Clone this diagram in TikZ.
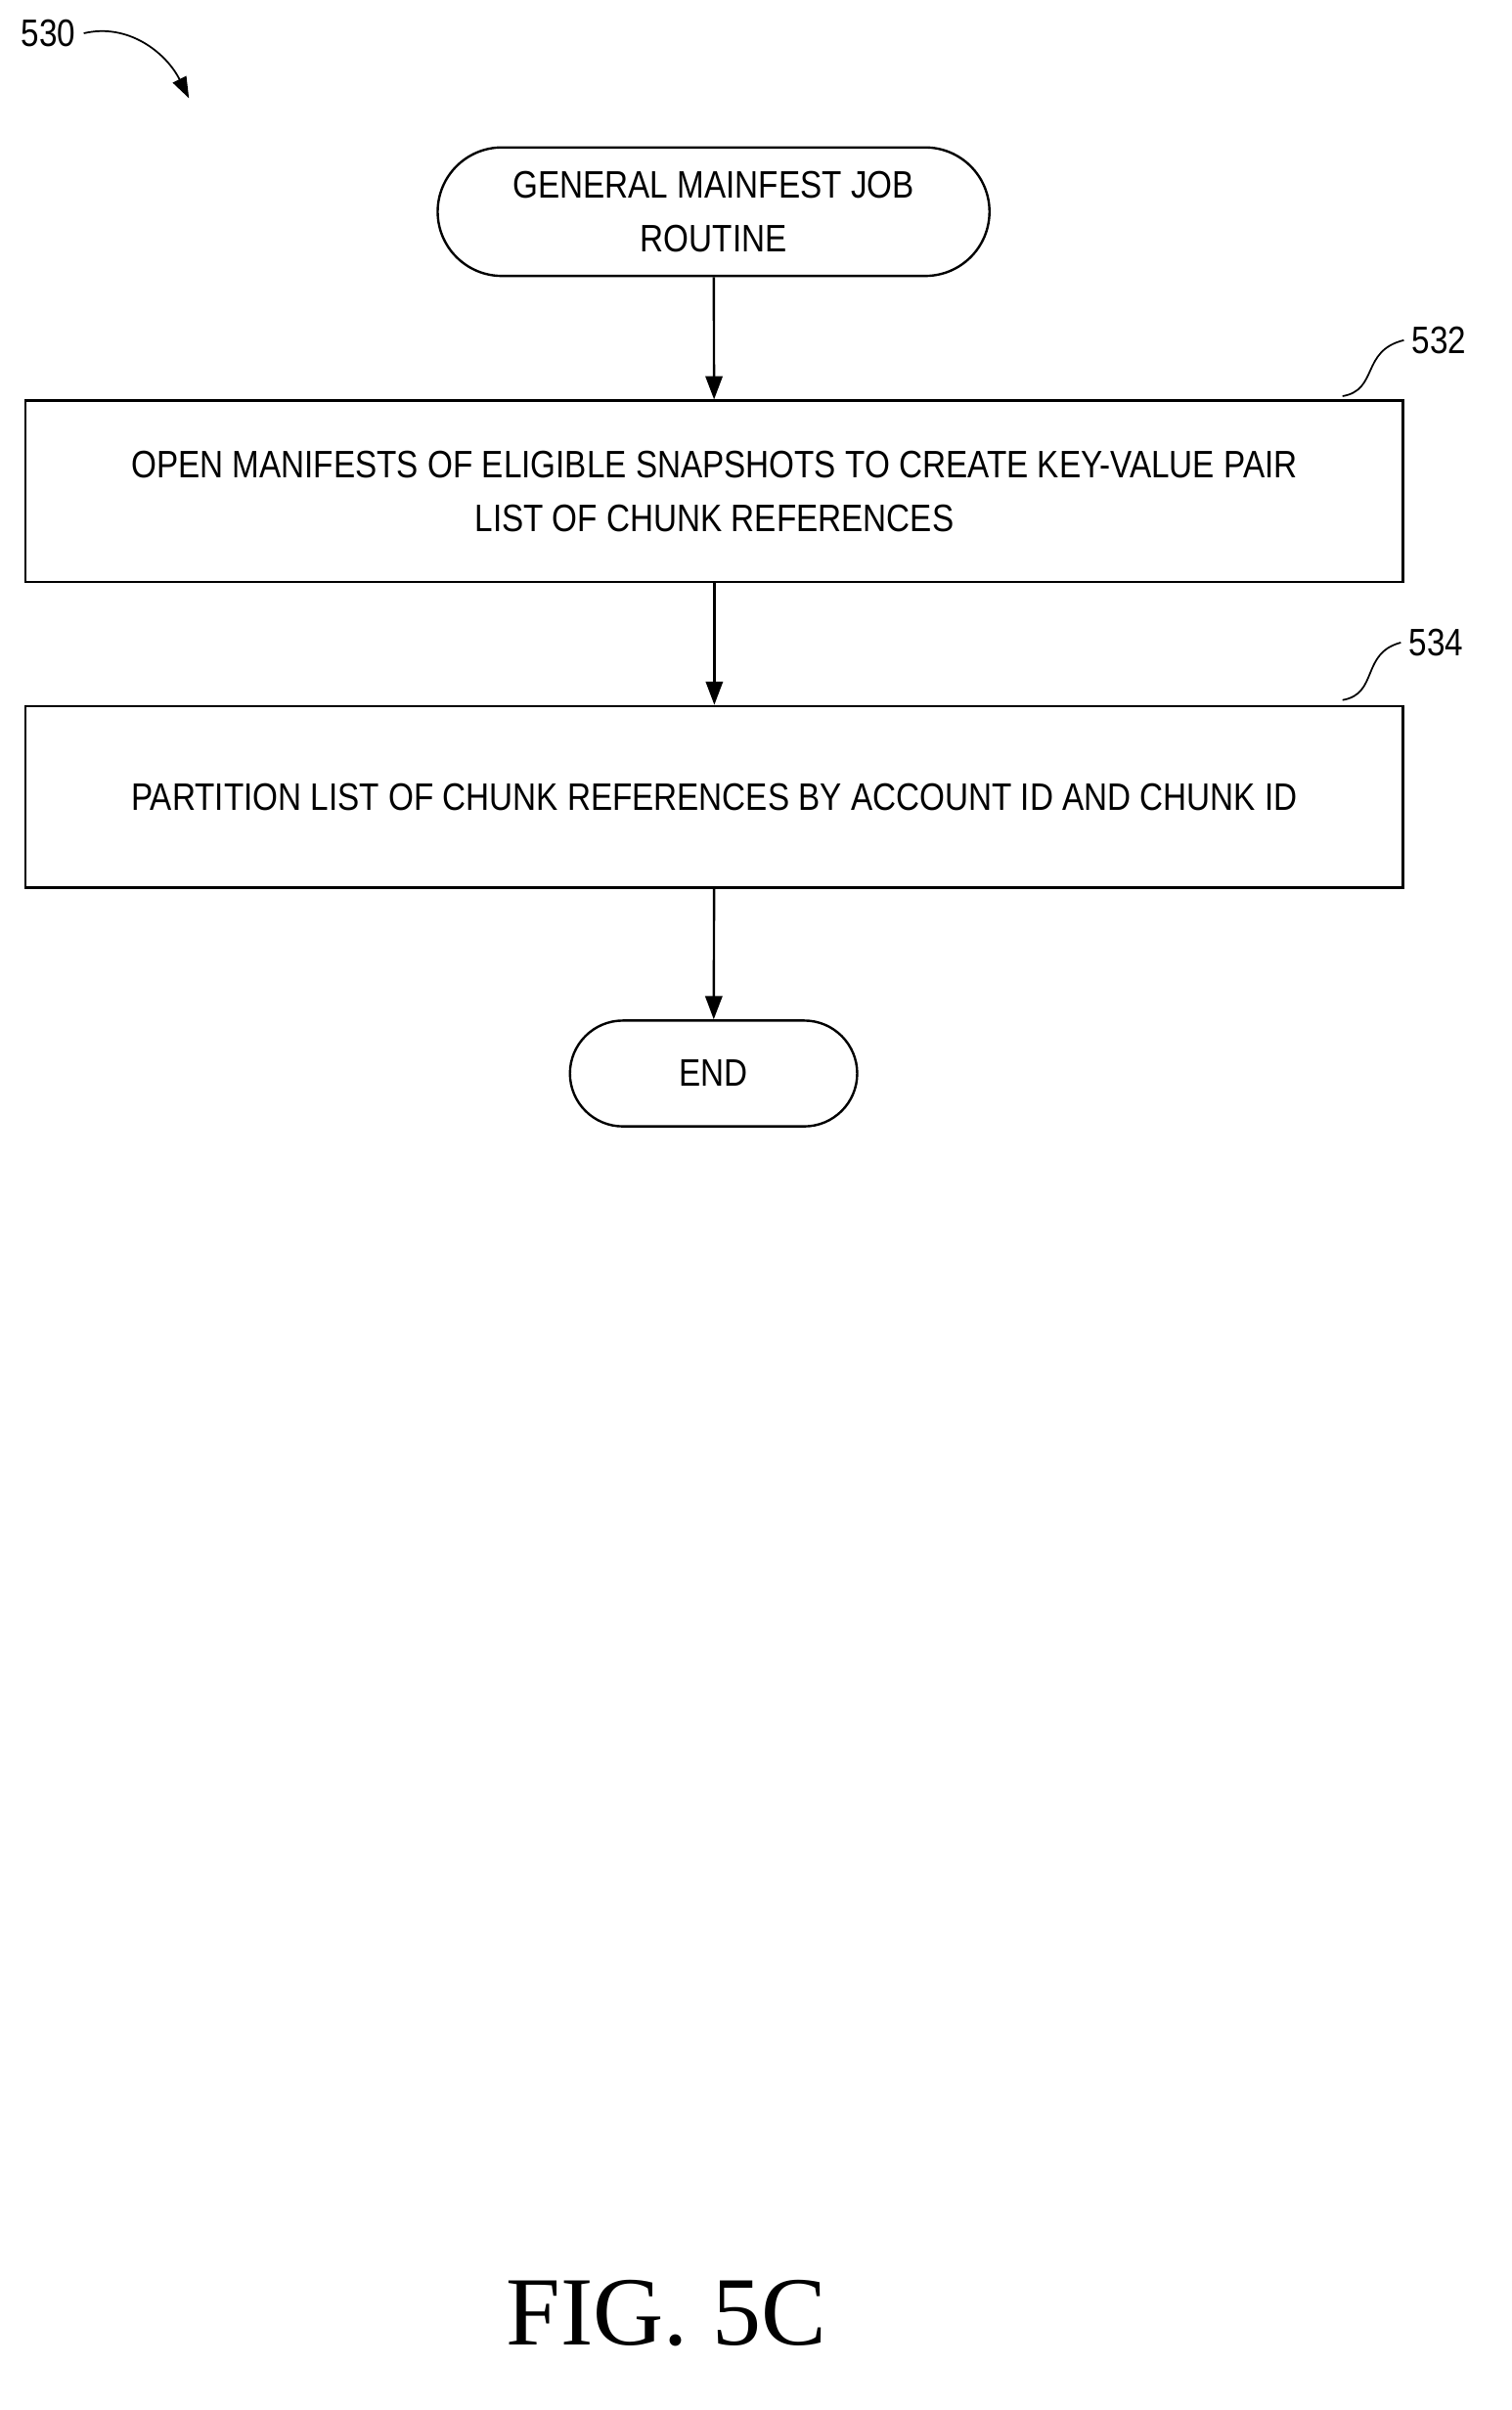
\documentclass[tikz,border=0pt]{standalone}
\usepackage{fontspec}
\setmainfont{Liberation Sans}[FakeStretch=0.85]
\newfontfamily\figfont{Liberation Serif}[BoldItalicFont=*]
\usetikzlibrary{arrows.meta,shapes.misc}
\begin{document}
\begin{tikzpicture}[x=0.025cm,y=-0.025cm,line width=1.1pt,
  txt/.style={font=\fontsize{18}{25}\selectfont,align=center},
  term/.style={txt,draw,rounded rectangle,inner sep=0pt},
  box/.style={txt,draw,rectangle,inner sep=0pt},
  arr/.style={-{Triangle[length=11pt,width=8pt]}},
  lbl/.style={font=\fontsize{18}{22}\selectfont}]
\useasboundingbox (0,0) rectangle (1000,1594);
\node[term,minimum width=365*0.025cm,minimum height=85*0.025cm] (start) at (472,140) {GENERAL MAINFEST JOB\\ROUTINE};
\node[box,minimum width=911*0.025cm,minimum height=120*0.025cm] (b532) at (472.5,325) {OPEN MANIFESTS OF ELIGIBLE SNAPSHOTS TO CREATE KEY-VALUE PAIR\\LIST OF CHUNK REFERENCES};
\node[box,minimum width=911*0.025cm,minimum height=120*0.025cm] (b534) at (472.5,527) {PARTITION LIST OF CHUNK REFERENCES BY ACCOUNT ID AND CHUNK ID};
\node[term,minimum width=190*0.025cm,minimum height=70*0.025cm] (end) at (472,710) {END};
\draw[arr] (start) -- (b532);
\draw[arr] (b532) -- (b534);
\draw[arr] (b534) -- (end);
\node[lbl] (l532) at (952,225) {532};
\node[lbl] (l534) at (950,425) {534};
\node[lbl] (l530) at (32,22) {530};
\coordinate (c532) at (888,262);
\coordinate (c534) at (888,463);
\draw[line width=0.8pt] (c532) .. controls (912,258) and (900,232) .. (l532.west);
\draw[line width=0.8pt] (c534) .. controls (912,459) and (900,432) .. (l534.west);
\coordinate (a530) at (125,65);
\draw[line width=0.8pt,-{Triangle[length=10pt,width=7pt]}] (l530.east) .. controls (85,15) and (110,35) .. (a530);
\node[font=\figfont\bfseries\itshape\fontsize{46}{50}\selectfont] (fig) at (441,1530) {FIG. 5C};
\end{tikzpicture}
\end{document}
